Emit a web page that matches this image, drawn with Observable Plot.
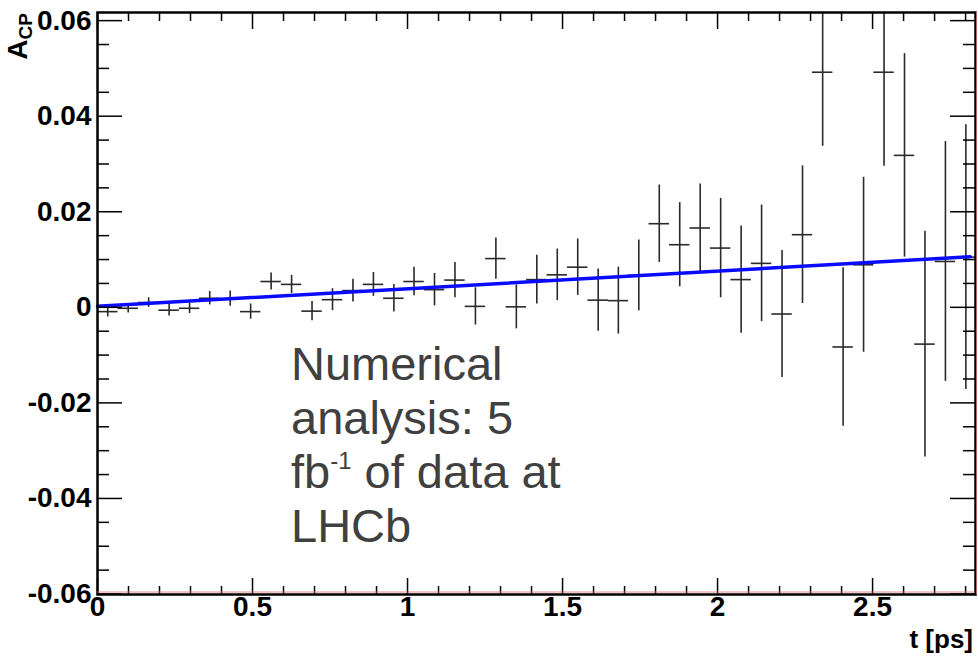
<!DOCTYPE html>
<html><head><meta charset="utf-8">
<script src="https://cdn.jsdelivr.net/npm/d3@7"></script>
<script src="https://cdn.jsdelivr.net/npm/@observablehq/plot@0.6"></script>
<style>html,body{margin:0;padding:0;background:#fff}svg{display:block}</style>
</head><body><div id="chart"></div>
<script>
// bin centres in t [ps]
const binCenters = [0.033,0.099,0.165,0.231,0.297,0.362,0.428,0.494,0.560,0.626,
  0.692,0.758,0.824,0.890,0.956,1.021,1.087,1.153,1.219,1.285,
  1.351,1.417,1.483,1.549,1.615,1.680,1.746,1.812,1.878,1.944,
  2.010,2.076,2.142,2.208,2.274,2.339,2.405,2.471,2.537,2.603,
  2.669,2.735,2.801];
const acp = [-0.0009,-0.0002,0.0010,-0.0006,-0.0002,0.0019,0.0018,-0.0009,0.0054,0.0048,
  -0.0008,0.0016,0.0035,0.0048,0.0019,0.0054,0.0037,0.0057,0.0002,0.0102,
  0.0001,0.0058,0.0068,0.0084,0.0015,0.0014,0.0067,0.0175,0.0131,0.0166,
  0.0124,0.0058,0.0092,-0.0014,0.0152,0.0492,-0.0083,0.0089,0.0492,0.0318,
  -0.0077,0.0096,0.0105];
const acpErr = [0.0011,0.0010,0.0010,0.0012,0.0011,0.0014,0.0016,0.0016,0.0018,0.0019,
  0.0020,0.0023,0.0024,0.0025,0.0029,0.0030,0.0034,0.0037,0.0039,0.0043,
  0.0046,0.0051,0.0054,0.0059,0.0065,0.0070,0.0074,0.0081,0.0088,0.0092,
  0.0104,0.0112,0.0122,0.0133,0.0144,0.0155,0.0166,0.0183,0.0197,0.0213,
  0.0236,0.0251,0.0277];
const binWidth = 0.0659;
const fitT = [0, 2.815];
const fitA = [0.0002, 0.0106];
const xMajorTicks = [0, 0.5, 1, 1.5, 2, 2.5];
const xTickLabels = ["0", "0.5", "1", "1.5", "2", "2.5"];
const xMinorTicks = [0.1,0.2,0.3,0.4,0.6,0.7,0.8,0.9,1.1,1.2,1.3,1.4,1.6,1.7,1.8,1.9,2.1,2.2,2.3,2.4,2.6,2.7,2.8];
const yMajorTicks = [-0.06, -0.04, -0.02, 0, 0.02, 0.04, 0.06];
const yTickLabels = ["-0.06", "-0.04", "-0.02", "0", "0.02", "0.04", "0.06"];
const yMinorTicks = [-0.055,-0.05,-0.045,-0.035,-0.03,-0.025,-0.015,-0.01,-0.005,0.005,0.01,0.015,0.025,0.03,0.035,0.045,0.05,0.055];

const points = binCenters.map((t, i) => ({t, a: acp[i], e: acpErr[i]}));
const fit = fitT.map((t, i) => ({t, a: fitA[i]}));

const W = 978, H = 658;
const mL = 97, mR = 3, mT = 12, mB = 64;
const pw = W - mL - mR, ph = H - mT - mB;
const bold = {fontFamily: "Liberation Sans, Arial, Helvetica, sans-serif", fontWeight: "bold", fontSize: 28, fill: "#000"};

const plot = Plot.plot({
  width: W, height: H,
  marginLeft: mL, marginRight: mR, marginTop: mT, marginBottom: mB,
  x: {domain: [0, 2.832], axis: null},
  y: {domain: [-0.0601, 0.0617], axis: null},
  marks: [
    // error bars
    Plot.ruleX(points, {x: "t", y1: d => d.a - d.e, y2: d => d.a + d.e, stroke: "#2a2a2a", strokeWidth: 1.6, clip: true}),
    Plot.ruleY(points, {y: "a", x1: d => d.t - binWidth / 2, x2: d => d.t + binWidth / 2, stroke: "#2a2a2a", strokeWidth: 1.6, clip: true}),
    // fit line
    Plot.line(fit, {x: "t", y: "a", stroke: "#0a0aff", strokeWidth: 3.5}),
    // ticks (ROOT style, inward on all four sides)
    Plot.tickX(xMajorTicks, {x: d => d, insetTop: ph - 16, stroke: "#000", strokeWidth: 1.5}),
    Plot.tickX(xMajorTicks, {x: d => d, insetBottom: ph - 17, stroke: "#000", strokeWidth: 1.5}),
    Plot.tickX(xMinorTicks, {x: d => d, insetTop: ph - 8, stroke: "#000", strokeWidth: 1.5}),
    Plot.tickX(xMinorTicks, {x: d => d, insetBottom: ph - 9, stroke: "#000", strokeWidth: 1.5}),
    Plot.tickY(yMajorTicks, {y: d => d, insetRight: pw - 25, stroke: "#000", strokeWidth: 1.5}),
    Plot.tickY(yMajorTicks, {y: d => d, insetLeft: pw - 25, stroke: "#000", strokeWidth: 1.5}),
    Plot.tickY(yMinorTicks, {y: d => d, insetRight: pw - 12, stroke: "#000", strokeWidth: 1.5}),
    Plot.tickY(yMinorTicks, {y: d => d, insetLeft: pw - 12, stroke: "#000", strokeWidth: 1.5}),
    Plot.frame({stroke: "#000", strokeWidth: 2.5}),
    // tick labels
    Plot.text(xMajorTicks, {x: d => d, frameAnchor: "bottom", dy: 21, text: (d, i) => xTickLabels[i], ...bold}),
    Plot.text(yMajorTicks, {y: d => d, frameAnchor: "left", dx: -6, textAnchor: "end", text: (d, i) => yTickLabels[i], ...bold})
  ]
});
document.getElementById("chart").appendChild(plot);

const svg = d3.select(plot);
// thin red line along bottom and right edges (as in the ROOT canvas)
svg.append("line").attr("x1", mL).attr("x2", W - mR).attr("y1", H - mB - 2).attr("y2", H - mB - 2)
  .attr("stroke", "#e07070").attr("stroke-width", 1).attr("opacity", 0.8);
svg.append("line").attr("x1", W - mR + 1.5).attr("x2", W - mR + 1.5).attr("y1", mT).attr("y2", H - mB)
  .attr("stroke", "#e07070").attr("stroke-width", 1).attr("opacity", 0.8);

// axis titles
const yTitle = svg.append("text")
  .attr("transform", `translate(27,${mT + 1}) rotate(-90)`)
  .attr("text-anchor", "end")
  .attr("font-family", "Liberation Sans, Arial, sans-serif").attr("font-weight", "bold")
  .attr("font-size", 28).attr("fill", "#000");
yTitle.append("tspan").text("A");
yTitle.append("tspan").attr("font-size", 19).attr("dy", 5).text("CP");

svg.append("text")
  .attr("x", W - 5).attr("y", 648)
  .attr("text-anchor", "end")
  .attr("font-family", "Liberation Sans, Arial, sans-serif").attr("font-weight", "bold")
  .attr("font-size", 26).attr("fill", "#000")
  .text("t [ps]");

// annotation
const annLines = ["Numerical", "analysis: 5", null, "LHCb"];
const ann = svg.append("g")
  .attr("font-family", "Liberation Sans, Arial, sans-serif")
  .attr("text-anchor", "start")
  .attr("font-size", 47).attr("fill", "#404040");
const baselines = [380, 434, 488, 542];
annLines.forEach((s, i) => {
  const t = ann.append("text").attr("x", 291).attr("y", baselines[i]).attr("text-anchor", "start");
  if (s !== null) t.text(s);
  else {
    t.append("tspan").text("fb");
    t.append("tspan").attr("font-size", 24).attr("dy", -19).text("-1");
    t.append("tspan").attr("dy", 19).text(" of data at");
  }
});
</script>
</body></html>
